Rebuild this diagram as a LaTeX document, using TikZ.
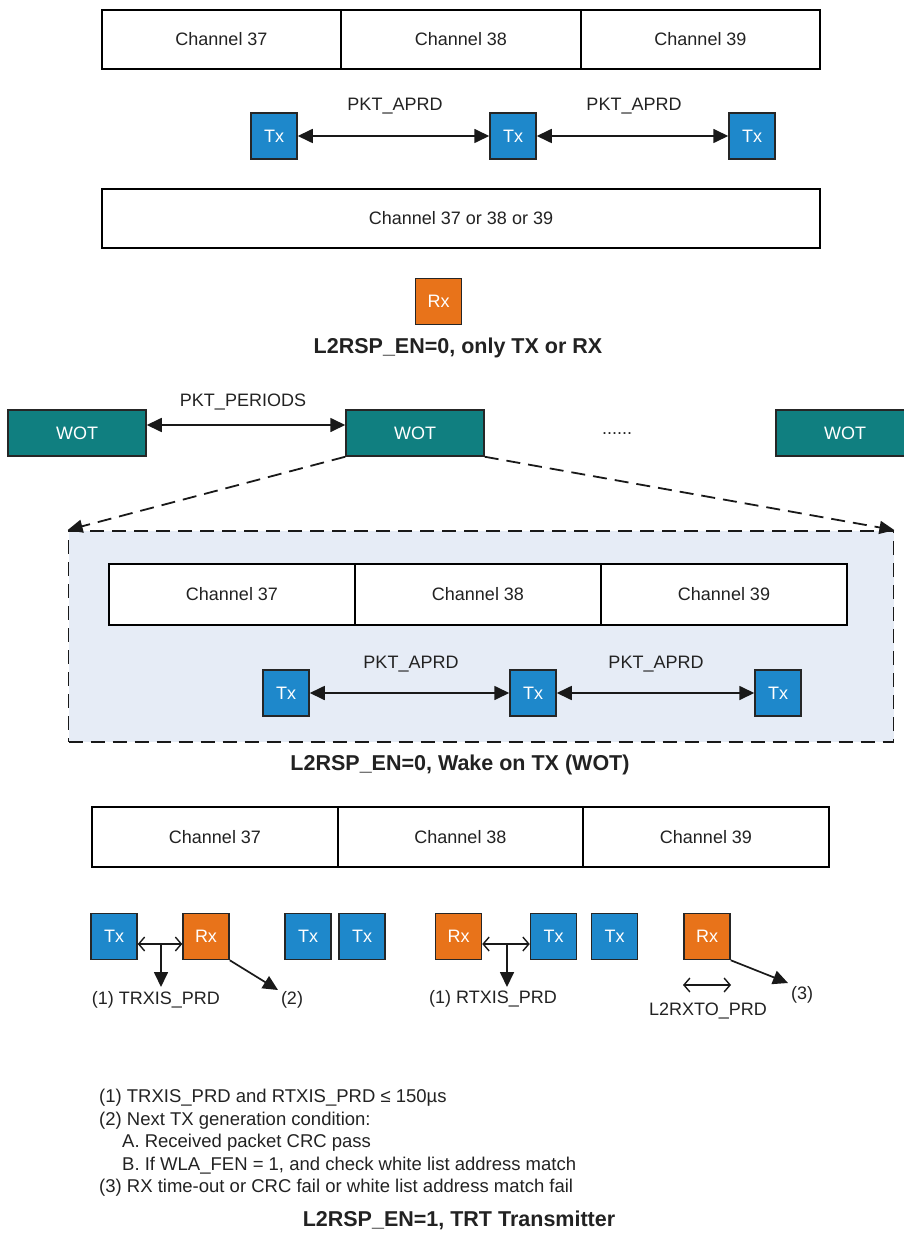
\documentclass[tikz,border=0pt]{standalone}
\usepackage{fontspec}
\setmainfont{Liberation Sans}
\usetikzlibrary{arrows.meta}
\definecolor{txblue}{HTML}{1E88CB}
\definecolor{rxorange}{HTML}{E8731A}
\definecolor{wotteal}{HTML}{107F80}
\definecolor{boxfill}{HTML}{E6ECF6}
\definecolor{txtgray}{HTML}{222222}
\tikzset{
  chan/.style={draw=black, line width=1.4pt, fill=white, minimum height=59pt, inner sep=0pt, text=txtgray},
  txbox/.style={draw=black!85, line width=1.5pt, fill=txblue, text=white, minimum width=46pt, minimum height=46pt, inner sep=0pt},
  rxbox/.style={txbox, fill=rxorange},
  wotbox/.style={draw=black!85, line width=1.5pt, fill=wotteal, text=white, minimum width=138pt, minimum height=46pt, inner sep=0pt},
  lbl/.style={text=txtgray, inner sep=0pt},
  ttl/.style={text=txtgray, inner sep=0pt, font=\fontsize{21.5}{25}\selectfont\bfseries},
  note/.style={text=txtgray, inner sep=0pt, anchor=west, text height=13pt, text depth=4pt, font=\fontsize{18.5}{22}\selectfont},
  arr/.style={{Triangle[length=15pt,width=14pt]}-{Triangle[length=15pt,width=14pt]}, line width=1.7pt, draw=black!90},
  onearr/.style={-{Triangle[length=15pt,width=14pt]}, line width=1.7pt, draw=black!90},
  openarr/.style={{Straight Barb[length=6pt,width=14pt]}-{Straight Barb[length=6pt,width=14pt]}, line width=1.4pt, draw=black!90},
  dline/.style={-{Triangle[length=15pt,width=13pt]}, line width=1.8pt, dash pattern=on 14pt off 8pt, draw=black!90},
  dbox/.style={draw=black!90, line width=1.8pt, dash pattern=on 14pt off 8pt, fill=boxfill, inner sep=0pt},
}
\begin{document}
\begin{tikzpicture}[x=1pt,y=-1pt, font=\fontsize{18}{22}\selectfont]
\useasboundingbox (0,0) rectangle (904,1233);

% ---------- Section 1 ----------
\node[chan, minimum width=239pt] (a37) at (221.5,39.5) {Channel 37};
\node[chan, minimum width=240pt] (a38) at (461,39.5) {Channel 38};
\node[chan, minimum width=239pt] (a39) at (700.5,39.5) {Channel 39};

\node[txbox] (atx1) at (274,136) {Tx};
\node[txbox] (atx2) at (513,136) {Tx};
\node[txbox] (atx3) at (752,136) {Tx};
\draw[arr] (atx1.east) -- (atx2.west);
\draw[arr] (atx2.east) -- (atx3.west);
\node[lbl] (alb1) at (395,106) {PKT\_APRD};
\node[lbl] (alb2) at (634,106) {PKT\_APRD};

\node[chan, minimum width=718pt] (aall) at (461,218.5) {Channel 37 or 38 or 39};
\node[rxbox] (arx) at (438.5,301.5) {Rx};
\node[ttl] (t1) at (458,348) {L2RSP\_EN=0, only TX or RX};

% ---------- Section 2 ----------
\node[wotbox] (w1) at (77,433) {WOT};
\node[wotbox] (w2) at (415,433) {WOT};
\node[wotbox] (w3) at (845,433) {WOT};
\draw[arr] (w1.east |- 0,425) coordinate (wa) -- (w2.west |- 0,425) coordinate (wb);
\node[lbl] (plab) at (243,402) {PKT\_PERIODS};
\node[lbl] (dots) at (617,434) {......};

\node[dbox, minimum width=825pt, minimum height=211pt] (wbox) at (481,636.5) {};
\draw[dline] (w2.south west) -- (wbox.north west);
\draw[dline] (w2.south east) -- (wbox.north east);

\node[chan, minimum width=246pt, minimum height=61pt] (b37) at (232,594.5) {Channel 37};
\node[chan, minimum width=246pt, minimum height=61pt] (b38) at (478,594.5) {Channel 38};
\node[chan, minimum width=246pt, minimum height=61pt] (b39) at (724,594.5) {Channel 39};

\node[txbox] (btx1) at (286,693) {Tx};
\node[txbox] (btx2) at (533,693) {Tx};
\node[txbox] (btx3) at (778,693) {Tx};
\draw[arr] (btx1.east) -- (btx2.west);
\draw[arr] (btx2.east) -- (btx3.west);
\node[lbl] (blb1) at (411,664) {PKT\_APRD};
\node[lbl] (blb2) at (656,664) {PKT\_APRD};

\node[ttl] (t2) at (460,765) {L2RSP\_EN=0, Wake on TX (WOT)};

% ---------- Section 3 ----------
\node[chan, minimum width=246pt, minimum height=60pt] (c37) at (215,837) {Channel 37};
\node[chan, minimum width=245pt, minimum height=60pt] (c38) at (460.5,837) {Channel 38};
\node[chan, minimum width=246pt, minimum height=60pt] (c39) at (706,837) {Channel 39};

\node[txbox] (ctx1) at (114,936.5) {Tx};
\node[rxbox] (crx1) at (206,936.5) {Rx};
\node[txbox] (ctx2) at (308,936.5) {Tx};
\node[txbox] (ctx3) at (362,936.5) {Tx};
\node[rxbox] (crx2) at (458.5,936.5) {Rx};
\node[txbox] (ctx4) at (553.5,936.5) {Tx};
\node[txbox] (ctx5) at (614.5,936.5) {Tx};
\node[rxbox] (crx3) at (707,936.5) {Rx};

% TRXIS
\draw[openarr] (ctx1.east |- 0,944) -- (crx1.west |- 0,944);
\coordinate (m1) at (161,944);
\node[lbl] (l1) at (156,1000) {(1) TRXIS\_PRD};
\draw[onearr] (m1) -- (m1 |- 0,987);
% (2)
\coordinate (e2) at (278,990);
\draw[onearr] (crx1.south east) -- (e2);
\node[lbl] (l2) at (292,1000) {(2)};

% RTXIS
\draw[openarr] (crx2.east |- 0,944) -- (ctx4.west |- 0,944);
\coordinate (m2) at (507,944);
\node[lbl] (l3) at (493,999) {(1) RTXIS\_PRD};
\draw[onearr] (m2) -- (m2 |- 0,987);

% L2RXTO
\coordinate (r1) at (683,985);
\coordinate (r2) at (731,985);
\draw[openarr] (r1) -- (r2);
\node[lbl] (l4) at (708,1011) {L2RXTO\_PRD};
% (3)
\coordinate (e3) at (788,983);
\draw[onearr] (crx3.south east) -- (e3);
\node[lbl] (l5) at (802,995) {(3)};

% Notes
\node[note] (n1) at (99,1098) {(1) TRXIS\_PRD and RTXIS\_PRD ≤ 150µs};
\node[note] (n2) at (99,1120.5) {(2) Next TX generation condition:};
\node[note] (n3) at (122,1143) {A. Received packet CRC pass};
\node[note] (n4) at (122,1165.5) {B. If WLA\_FEN = 1, and check white list address match};
\node[note] (n5) at (99,1188) {(3) RX time-out or CRC fail or white list address match fail};

\node[ttl] (t3) at (459,1220) {L2RSP\_EN=1, TRT Transmitter};
\end{tikzpicture}
\end{document}
